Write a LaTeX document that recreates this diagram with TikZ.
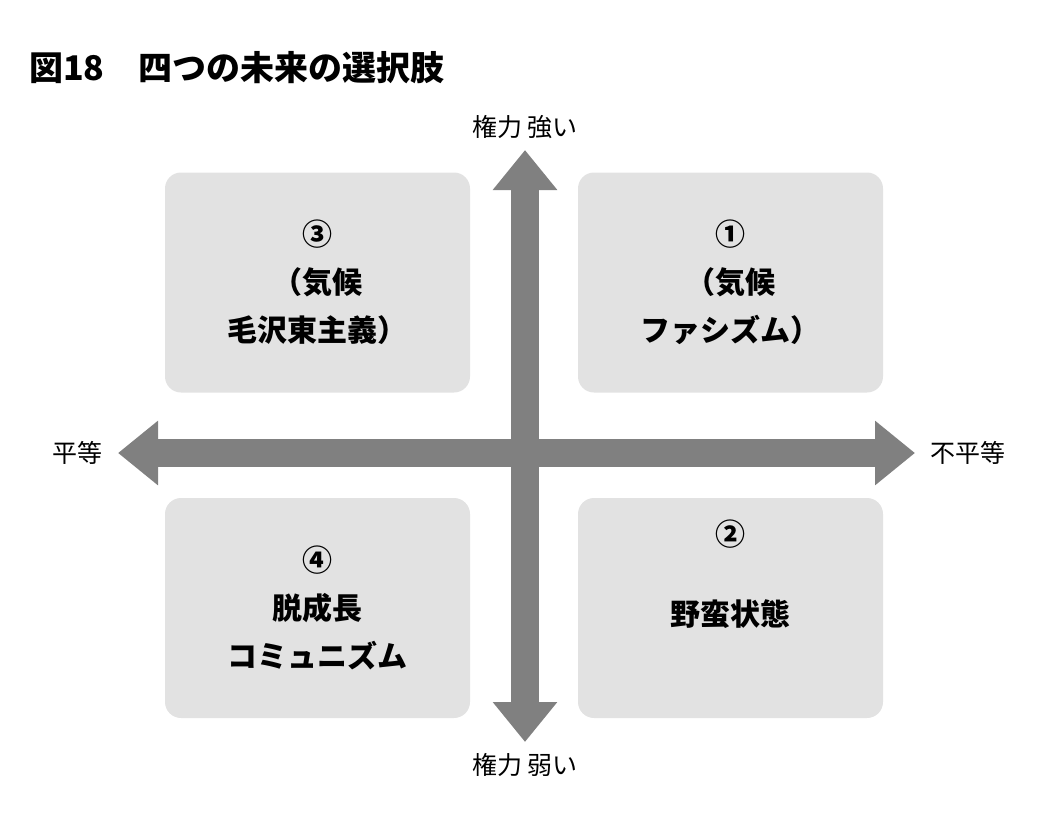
\documentclass[tikz,border=0pt]{standalone}
\usepackage{fontspec}
\newfontfamily\jp{Noto Sans CJK JP}
\usetikzlibrary{arrows.meta}
\definecolor{axisgray}{HTML}{808080}
\definecolor{boxgray}{HTML}{E2E2E2}
\tikzset{
  quad/.style={fill=boxgray, rounded corners=8pt, minimum width=152.5pt, minimum height=110pt,
    align=center, font=\jp\bfseries\fontsize{15pt}{24pt}\selectfont},
  axis/.style={axisgray, line width=14pt, {Triangle[width=31pt,length=20pt]}-{Triangle[width=31pt,length=20pt]}},
  lab/.style={font=\jp\fontsize{12.5pt}{14pt}\selectfont}
}
\begin{document}
\begin{tikzpicture}[x=0.5pt,y=-0.5pt]
\useasboundingbox (0,0) rectangle (1042,829);
% title
\node[anchor=west, font=\jp\bfseries\fontsize{17pt}{20pt}\selectfont] (title) at (22,68) {図18\quad 四つの未来の選択肢};
% quadrants
\node[quad] (q3) at (317.5,282.5) {③\\（気候\\毛沢東主義）};
\node[quad] (q1) at (730.5,282.5) {①\\（気候\\ファシズム）};
\node[quad] (q4) at (317.5,608) {④\\脱成長\\コミュニズム};
\node[quad] (q2) at (730.5,608) {②\\[16pt]野蛮状態\\[4pt]\strut};
% axes
\coordinate (top) at (525,150);
\coordinate (bottom) at (525,742);
\coordinate (left) at (118,453);
\coordinate (right) at (915,453);
\draw[axis] (left) -- (right);
\draw[axis] (bottom) -- (top);
% labels
\node[lab, above=2pt] (strong) at (top) {権力 強い};
\node[lab, below=2pt] (weak) at (bottom) {権力 弱い};
\node[lab, left=4pt] (equal) at (left) {平等};
\node[lab, right=4pt] (unequal) at (right) {不平等};
\end{tikzpicture}
\end{document}
